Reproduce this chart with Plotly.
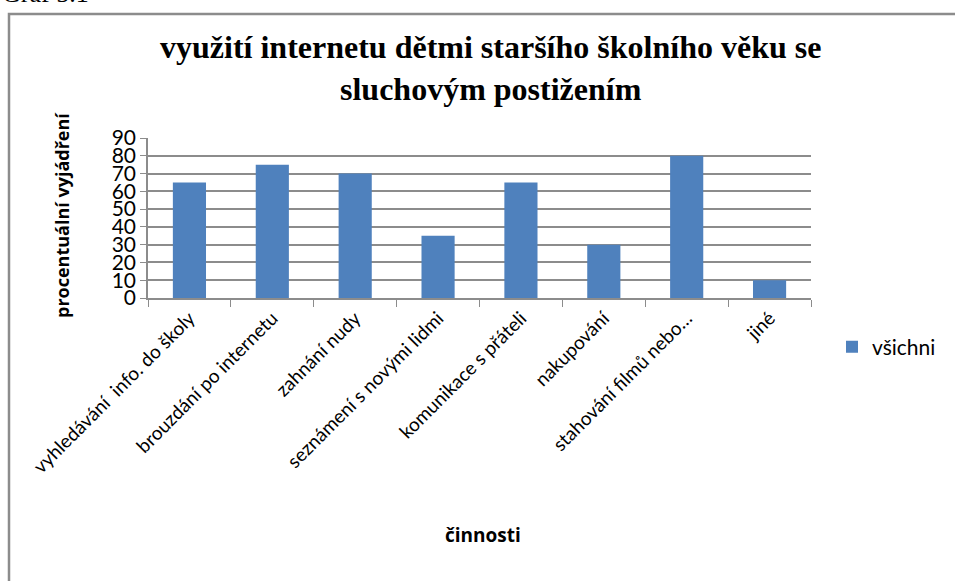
import plotly.graph_objects as go

# data
categories = [
    "vyhledávání  info. do školy",
    "brouzdání po internetu",
    "zahnání nudy",
    "seznámení s novými lidmi",
    "komunikace s přáteli",
    "nakupování",
    "stahování filmů nebo…",
    "jiné",
]
values = [65, 75, 70, 35, 65, 30, 80, 10]
series_name = "všichni"
y_ticks = [0, 10, 20, 30, 40, 50, 60, 70, 80, 90]

W, H = 955, 581
L, R, T, B = 148, 144, 138, 283
PW, PH = W - L - R, H - T - B


def px(x):
    return (x - L) / PW


def py(y):
    return (H - B - y) / PH


fig = go.Figure()
fig.add_trace(go.Bar(
    x=categories, y=values, name=series_name,
    marker=dict(color="#4F81BD", line=dict(width=0)),
    showlegend=True,
))

fig.update_layout(
    width=W, height=H,
    margin=dict(l=L, r=R, t=T, b=B, autoexpand=False),
    paper_bgcolor="white", plot_bgcolor="white",
    bargap=0.6,
    font=dict(family="Lato, Open Sans, sans-serif", color="black"),
    showlegend=True,
    legend=dict(x=px(832), y=py(347), xanchor="left", yanchor="middle",
                font=dict(size=21, family="Lato, sans-serif"),
                itemwidth=30, bgcolor="rgba(0,0,0,0)"),
)

fig.update_yaxes(
    range=[0, 90], tickvals=y_ticks, automargin=False,
    showgrid=True, gridcolor="#8c8c8c", gridwidth=1.5,
    showline=True, linecolor="#8c8c8c", linewidth=1.5,
    ticks="outside", ticklen=6, tickcolor="#8c8c8c",
    tickfont=dict(size=21, family="Lato, sans-serif"),
    zeroline=False, fixedrange=True,
)
fig.update_xaxes(
    tickangle=-45, tickson="boundaries", automargin=False,
    showline=True, linecolor="#8c8c8c", linewidth=1.5,
    ticks="outside", ticklen=7, tickcolor="#8c8c8c",
    tickfont=dict(size=19, family="Lato, sans-serif"),
    fixedrange=True,
)

# title
fig.add_annotation(
    text="<b>využití internetu dětmi staršího školního věku se<br>sluchovým postižením</b>",
    xref="paper", yref="paper", x=px(490), y=py(68),
    xanchor="center", yanchor="middle", showarrow=False,
    font=dict(family="Liberation Serif, Times New Roman, serif", size=32),
)
# axis titles
fig.add_annotation(
    text="<b>procentuální vyjádření</b>", textangle=-90,
    xref="paper", yref="paper", x=px(62), y=py(215),
    xanchor="center", yanchor="middle", showarrow=False,
    font=dict(size=18, family="Open Sans, sans-serif"),
)
fig.add_annotation(
    text="<b>činnosti</b>",
    xref="paper", yref="paper", x=px(483), y=py(535),
    xanchor="center", yanchor="middle", showarrow=False,
    font=dict(size=19, family="Open Sans, sans-serif"),
)
# caption cut off at top of the page
fig.add_annotation(
    text="Graf 5.1",
    xref="paper", yref="paper", x=px(0), y=py(-7),
    xanchor="left", yanchor="middle", showarrow=False,
    font=dict(size=26, family="Liberation Serif, serif"),
)

# chart frame
fig.add_shape(
    type="rect", xref="paper", yref="paper",
    x0=px(9), x1=px(970), y0=py(600), y1=py(14),
    line=dict(color="#8c8c8c", width=2.5), layer="below",
)

# page body has a default 8px margin; drop it so the figure sits at 0,0
fig.write_html("out.html", config={"displayModeBar": False},
               post_script="document.body.style.margin='0';")
